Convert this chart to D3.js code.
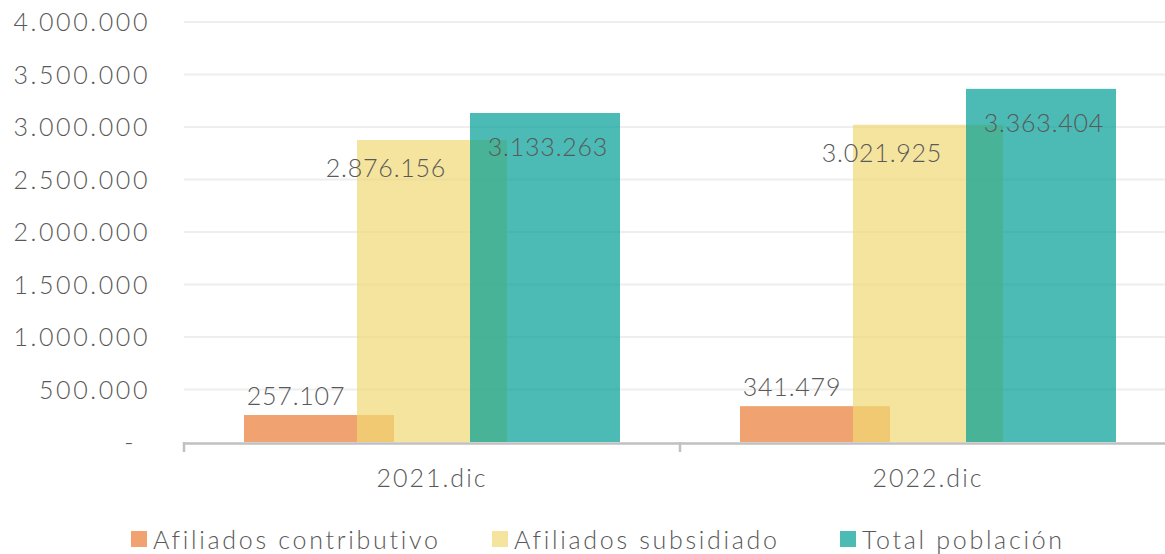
<!DOCTYPE html>
<html>
<head>
<meta charset="utf-8">
<script src="https://cdn.jsdelivr.net/npm/d3@7"></script>
<style>
  html, body { margin: 0; padding: 0; background: #fff; }
  svg { display: block; }
  text { font-family: Lato, "Open Sans", sans-serif; fill: #595959; font-weight: 300; }
</style>
</head>
<body>
<svg id="chart" width="1165" height="554"></svg>
<script>
const categories = ["2021.dic", "2022.dic"];
const seriesNames = ["Afiliados contributivo", "Afiliados subsidiado", "Total población"];
const contributivo = [257107, 341479];
const subsidiado = [2876156, 3021925];
const totalPoblacion = [3133263, 3363404];
const yTicks = [0, 500000, 1000000, 1500000, 2000000, 2500000, 3000000, 3500000, 4000000];

const seriesValues = [contributivo, subsidiado, totalPoblacion];
const colors = ["#E97C33", "#F1D875", "#009E95"];
const labelOffset = [{dx: -23, dy: -20}, {dx: -46, dy: 27}, {dx: 3, dy: 33}];

const svg = d3.select("#chart");
const mLeft = 184, mRight = 1176, mTop = 22, mBottom = 442;

const x = d3.scaleBand().domain(categories).range([mLeft, mRight]).padding(0);
const y = d3.scaleLinear().domain([0, 4000000]).range([mBottom, mTop]);
const barW = x.bandwidth() * 150 / 496;
const inner = d3.scalePoint().domain(seriesNames).range([-x.bandwidth() * 113 / 496, x.bandwidth() * 113 / 496]);

const numFmt = d3.formatLocale({decimal: ",", thousands: ".", grouping: [3], currency: ["", ""]}).format(",d");
const fmt = v => v === 0 ? "-" : numFmt(v);

// gridlines
svg.append("g").selectAll("line").data(yTicks.filter(t => t > 0)).join("line")
  .attr("x1", mLeft).attr("x2", mRight)
  .attr("y1", d => y(d)).attr("y2", d => y(d))
  .attr("stroke", "#eeeeee").attr("stroke-width", 2);

// y axis labels
const yAxis = svg.append("g").attr("transform", `translate(${mLeft},0)`)
  .call(d3.axisLeft(y).tickValues(yTicks).tickFormat(fmt).tickSize(0).tickPadding(34));
yAxis.select(".domain").remove();
yAxis.selectAll("text").style("font-size", "25px").style("font-family", "Lato, sans-serif")
  .style("font-weight", 300).style("letter-spacing", "2.6px").attr("fill", "#595959")
  .attr("dx", d => d === 0 ? -14 : 0).attr("dy", "0.35em");

// bars
seriesNames.forEach((s, si) => {
  svg.append("g").selectAll("rect").data(categories).join("rect")
    .attr("x", (c) => x(c) + x.bandwidth() / 2 + inner(s) - barW / 2)
    .attr("y", (c, i) => y(seriesValues[si][i]))
    .attr("width", barW)
    .attr("height", (c, i) => y(0) - y(seriesValues[si][i]))
    .attr("fill", colors[si]).attr("fill-opacity", 0.7);
});

// x axis
const xAxis = svg.append("g").attr("transform", `translate(0,${mBottom + 1})`)
  .call(d3.axisBottom(x).tickSize(0).tickPadding(26));
xAxis.select(".domain").attr("stroke", "#c0c0c0").attr("stroke-width", 2.5);
xAxis.selectAll("text").style("font-size", "25px").style("font-family", "Lato, sans-serif")
  .style("font-weight", 300).style("letter-spacing", "2px").attr("fill", "#595959");
// band boundary ticks
const bounds = [mLeft, ...categories.slice(1).map(c => x(c))];
svg.append("g").selectAll("line").data(bounds).join("line")
  .attr("x1", d => d).attr("x2", d => d)
  .attr("y1", mBottom).attr("y2", mBottom + 10)
  .attr("stroke", "#c0c0c0").attr("stroke-width", 2.5);

// data labels
seriesNames.forEach((s, si) => {
  svg.append("g").selectAll("text").data(categories).join("text")
    .attr("x", c => x(c) + x.bandwidth() / 2 + inner(s) + labelOffset[si].dx)
    .attr("y", (c, i) => y(seriesValues[si][i]) + labelOffset[si].dy)
    .attr("text-anchor", "middle").attr("dominant-baseline", "central")
    .style("font-size", "25px").style("letter-spacing", "0.8px")
    .text((c, i) => fmt(seriesValues[si][i]));
});

// legend
const legendX = [131, 492, 840];
const lg = svg.append("g");
seriesNames.forEach((s, si) => {
  lg.append("rect").attr("x", legendX[si]).attr("y", 531).attr("width", 16).attr("height", 16)
    .attr("fill", colors[si]).attr("fill-opacity", 0.7);
  lg.append("text").attr("x", legendX[si] + 22).attr("y", 539).attr("dominant-baseline", "central")
    .style("font-size", "25px").style("letter-spacing", "2.7px").text(s);
});
</script>
</body>
</html>
